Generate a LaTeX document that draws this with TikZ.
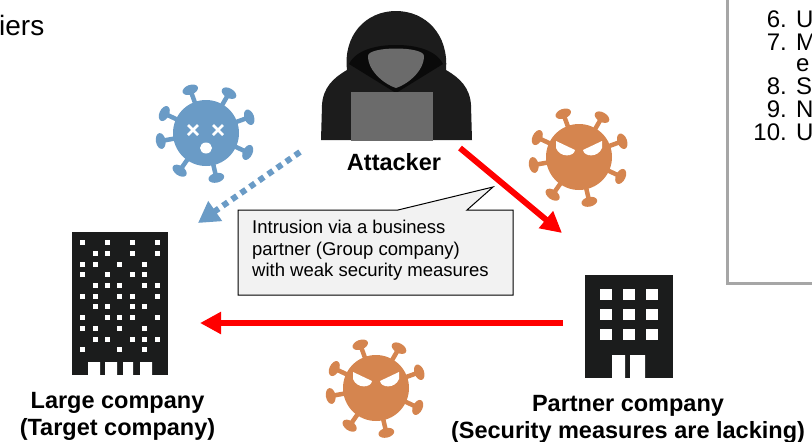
\documentclass[tikz,border=0pt]{standalone}
\usepackage{fontspec}
\setmainfont{Liberation Sans}
\usetikzlibrary{arrows.meta}

\definecolor{germblue}{HTML}{6A9BC6}
\definecolor{germorange}{HTML}{D5854F}
\definecolor{alarmred}{HTML}{FF0000}
\definecolor{hooddark}{HTML}{1C1C1C}
\definecolor{hoodinner}{HTML}{0A0A0A}
\definecolor{facegray}{HTML}{6B6B6B}
\definecolor{towerblack}{HTML}{1B1C1C}
\definecolor{notefill}{HTML}{F2F2F2}
\definecolor{listframe}{HTML}{A6A6A6}

\tikzset{
  caption/.style={font=\bfseries\fontsize{23.5}{27}\selectfont, align=center, inner sep=0pt},
  notetext/.style={font=\fontsize{18.5}{21.5}\selectfont, align=left, inner sep=0pt},
  listtext/.style={font=\fontsize{24}{28}\selectfont, inner sep=0pt},
  redarrow/.style={alarmred, line width=6pt, -{Triangle[length=21pt,width=21pt]}},
  bluearrow/.style={germblue, line width=6pt, dash pattern=on 6pt off 5pt,
    -{Triangle[length=21pt,width=23pt]}},
  germ/.pic={
    \foreach \a in {110,60,20,-25,-77,-125,-170,155}{
      \draw[line width=4.5pt, rotate=\a] (0,0) -- (46,0);
      \fill[rotate=\a] (46,0) ellipse (4.8pt and 8pt);
    }
    \fill (0,0) circle (33pt);
  },
  % white angry eyes
  angry/.pic={
    \fill[white] (-23,-16) -- (-4,-7) .. controls (-5,0) and (-19,1) .. (-23,-9) -- cycle;
    \fill[white] (23,-16) -- (4,-7) .. controls (5,0) and (19,1) .. (23,-9) -- cycle;
  },
}

\begin{document}
\begin{tikzpicture}[x=1pt,y=-1pt]
    \useasboundingbox (0,0) rectangle (812,442);
    % LIST BOX (top right)
    \draw[listframe, line width=3pt, fill=white] (727,-10) rectangle (850,283);
    \foreach \i/\n/\w/\y in {1/6./U/27, 2/7./M/50, 3//e/71, 4/8./S/94, 5/9./N/117, 6/10./U/140}{
      \node[listtext, anchor=base east] (num\i) at (787,\y) {\n};
      \node[listtext, anchor=base west] (word\i) at (796,\y) {\w};
    }
    \node[anchor=base west, inner sep=0pt, font=\fontsize{28}{32}\selectfont] (heading) at (-1,35) {iers};
    % ATTACKER
    \fill[hooddark] (321,140) -- (322,105) .. controls (323,88) and (333,78) .. (347,70)
      .. controls (343,35) and (366,11) .. (396,11)
      .. controls (426,11) and (449,35) .. (446,70)
      .. controls (460,78) and (470,88) .. (471,105) -- (472,140) -- cycle;
    \fill[hoodinner] (349,64) .. controls (356,50) and (376,45) .. (396,45)
      .. controls (416,45) and (436,50) .. (443,64) -- (396,93) -- cycle;
    % face and laptop
    \fill[facegray] (368,56) .. controls (368,46) and (424,46) .. (424,56)
      .. controls (424,72) and (406,85) .. (396,88)
      .. controls (386,85) and (368,72) .. (368,56) -- cycle;
    \fill[facegray] (351,92) rectangle (433,141);
    \node[caption, anchor=north] (attacker) at (394,153) {Attacker};
    % VIRUSES
    \pic[germblue] (deadgerm) at (206,133) {germ};
    \draw[white, line width=2.6pt] (188,125) -- (198,135) (188,135) -- (198,125);
    \draw[white, line width=2.6pt] (213,125) -- (223,135) (213,135) -- (223,125);
    \fill[white] (206,148) ellipse (6pt and 5.5pt);
    \pic[germorange] (topgerm) at (579,157) {germ};
    \pic (topface) at (579,157) {angry};
    \pic[germorange] (lowgerm) at (376,388) {germ};
    \pic (lowface) at (376,388) {angry};
    % LARGE COMPANY
    \fill[towerblack] (72,232) rectangle (168,375);
    \fill[white] (88,362) rectangle (100,376) (105,362) rectangle (117,376)
      (123,362) rectangle (133,376) (140,362) rectangle (152,376);
    \foreach \r/\cols in {1/{1,3,5,7}, 2/{2,3,5,7}, 3/{1,2,4,6}, 4/{1,3,5,6},
        5/{2,3,4,6,7}, 6/{1,2,4,5,7}, 7/{2,3,5,6}, 8/{1,3,4,5,7},
        9/{1,2,4,6}, 10/{2,3,5,6,7}, 11/{1,4,6}}
      \foreach \c in \cols
        \fill[white] ({67.8+12.4*\c},{240.2+10.7*(\r-1)}) rectangle +(5,5);
    \node[caption, anchor=north] (large) at (117.5,392) {Large company\\(Target company)};
    % PARTNER COMPANY
    \fill[towerblack] (585,275) rectangle (673,378);
    \foreach \x in {600,623,646}
      \foreach \y in {289,309,329}
        \fill[white] (\x,\y) rectangle +(11.5,11);
    \fill[white] (612,355) rectangle (625,379) (630,355) rectangle (645,379);
    \node[caption, anchor=north] (partner) at (628,395) {Partner company\\(Security measures are lacking)};
    % CALLOUT
    \draw[fill=notefill, line width=1pt] (238,210) -- (398,210) -- (493,187) -- (467,210)
      -- (513,210) -- (513,295) -- (238,295) -- cycle;
    \node[notetext, anchor=north west] (note) at (252,220)
      {Intrusion via a business\\partner (Group company)\\with weak security measures};
    % ARROWS
    \coordinate (hackstart) at (460,148);
    \coordinate (hackend) at (562,233);
    \coordinate (blockstart) at (300,152);
    \coordinate (blockend) at (198,223);
    \coordinate (relaystart) at (563,323);
    \coordinate (relayend) at (200,323);
    \draw[redarrow] (hackstart) -- (hackend);
    \draw[bluearrow] (blockstart) -- (blockend);
    \draw[redarrow] (relaystart) -- (relayend);
\end{tikzpicture}
\end{document}
